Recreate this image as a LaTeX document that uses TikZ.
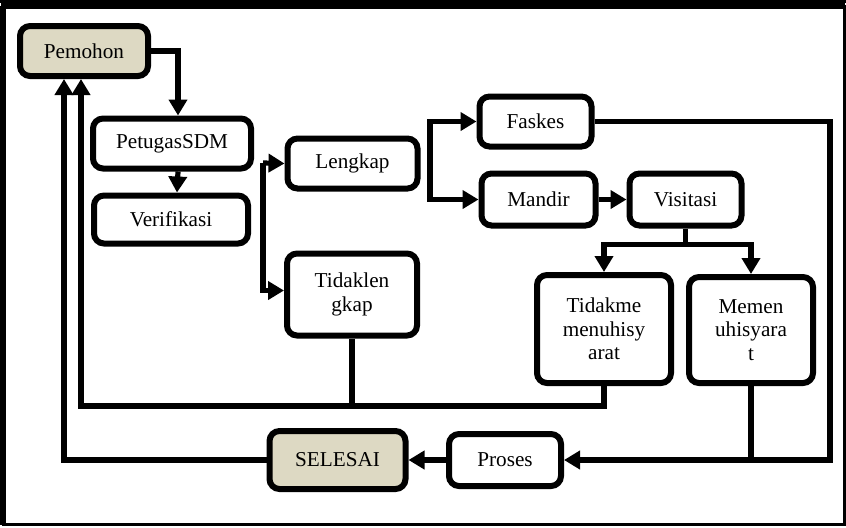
\documentclass[tikz,border=0pt]{standalone}
\usepackage{fontspec}
\setmainfont{Liberation Serif}
\usetikzlibrary{arrows.meta}
\definecolor{krem}{HTML}{DDD9C3}
\begin{document}
\begin{tikzpicture}[x=0.5pt,y=-0.5pt]
	
	% --- gaya ---
	\tikzset{
		kotak/.style = {draw, line width=3pt, rounded corners=5pt, fill=white,
			align=center, inner sep=2pt, font=\fontsize{10.6}{11.7}\selectfont},
		ujung/.style = {kotak, fill=krem},
		garis/.style = {line width=2.6pt},
		panah/.style = {garis, -{Triangle[length=8pt,width=9pt]}},
	}
	
	\useasboundingbox (0,0) rectangle (846,527);
	
	% bingkai luar
	\draw[line width=1.5pt] (0,1) -- (846,1);
	\draw[line width=1.5pt] (3,6) rectangle (844,524);
	\draw[line width=3pt] (3,6) -- (3,525);
	\draw[line width=3pt] (1,6) -- (845,6);
	
	% --- kotak-kotak ---
	\node[ujung, minimum width=64pt, minimum height=25pt] (pemohon) at (84,51) {Pemohon};
	\node[kotak, minimum width=79pt, minimum height=25pt] (petugas) at (172,143.5) {PetugasSDM};
	\node[kotak, minimum width=77pt, minimum height=24pt] (verif) at (171,219.5) {Verifikasi};
	\node[kotak, minimum width=65pt, minimum height=25pt] (lengkap) at (352.5,163.5) {Lengkap};
	\node[kotak, minimum width=65pt, minimum height=41pt] (tdklengkap) at (352,294.5) {Tidaklen\\gkap};
	\node[kotak, minimum width=56pt, minimum height=25pt] (faskes) at (535.5,121.5) {Faskes};
	\node[kotak, minimum width=57pt, minimum height=26pt] (mandir) at (538.5,199.5) {Mandir};
	\node[kotak, minimum width=56pt, minimum height=26pt] (visitasi) at (685.5,199.5) {Visitasi};
	\node[kotak, minimum width=67pt, minimum height=54pt] (tdksyarat) at (604,329) {Tidakme\\menuhisy\\arat};
	\node[kotak, minimum width=62pt, minimum height=53pt] (syarat) at (751,330) {Memen\\uhisyara\\t};
	\node[kotak, minimum width=56pt, minimum height=26pt] (proses) at (505,460) {Proses};
	\node[ujung, minimum width=68pt, minimum height=29pt] (selesai) at (337.5,460) {SELESAI};
	
	% titik bantu
	\coordinate (cabang1) at (263,163);
	\coordinate (cabang2) at (430,163);
	\coordinate (pojok) at (830,460);
	
	% --- alur ---
	\draw[panah] (pemohon.east) -| ([xshift=3pt]petugas.north);
	\draw[panah] ([xshift=3pt]petugas.south) -- ([xshift=3pt]verif.north);
	\draw[panah] (cabang1) -- (lengkap.west);
	\draw[panah] (cabang1) |- ([yshift=2pt]tdklengkap.west);
	\draw[panah] (cabang2) |- (faskes.west);
	\draw[panah] (cabang2) |- (mandir.west);
	\draw[panah] (mandir) -- (visitasi);
	\draw[garis] (visitasi.south) -- ++(0,16) coordinate (bagi);
	\draw[panah] (bagi) -| (tdksyarat.north);
	\draw[panah] (bagi) -| (syarat.north);
	
	% kembali ke pemohon
	\draw[panah] (tdksyarat.south) -- ++(0,20) coordinate (bawah) -| ([xshift=-1.5pt]pemohon.south);
	\draw[garis] (tdklengkap.south) -- (tdklengkap.south |- bawah);
	\draw[panah] (selesai.west) -| ([xshift=-10pt]pemohon.south);
	
	% menuju proses
	\draw[panah] (faskes.east) -| (pojok) -- (proses.east);
	\draw[garis] (syarat.south) -- (syarat.south |- pojok);
	\draw[panah] (proses) -- (selesai);
	
\end{tikzpicture}
\end{document}
